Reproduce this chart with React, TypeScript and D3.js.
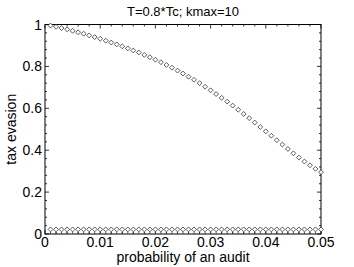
import React, { useEffect, useRef } from "react";
import * as d3 from "d3";

// probability of an audit (0.001 .. 0.05)
const auditProb: number[] = [
  0.001, 0.002, 0.003, 0.004, 0.005, 0.006, 0.007, 0.008, 0.009, 0.010,
  0.011, 0.012, 0.013, 0.014, 0.015, 0.016, 0.017, 0.018, 0.019, 0.020,
  0.021, 0.022, 0.023, 0.024, 0.025, 0.026, 0.027, 0.028, 0.029, 0.030,
  0.031, 0.032, 0.033, 0.034, 0.035, 0.036, 0.037, 0.038, 0.039, 0.040,
  0.041, 0.042, 0.043, 0.044, 0.045, 0.046, 0.047, 0.048, 0.049, 0.050,
];

// tax evasion, upper series
const evasionHigh: number[] = [
  0.995, 0.989, 0.983, 0.977, 0.970, 0.963, 0.956, 0.948, 0.940, 0.932,
  0.923, 0.914, 0.905, 0.896, 0.886, 0.876, 0.866, 0.855, 0.844, 0.832,
  0.820, 0.807, 0.794, 0.780, 0.766, 0.751, 0.736, 0.720, 0.703, 0.686,
  0.668, 0.650, 0.632, 0.613, 0.593, 0.573, 0.553, 0.532, 0.511, 0.490,
  0.469, 0.448, 0.427, 0.406, 0.385, 0.365, 0.346, 0.328, 0.311, 0.295,
];

// tax evasion, lower series (near zero)
const evasionLow: number[] = [
  0.022, 0.022, 0.022, 0.022, 0.022, 0.022, 0.022, 0.022, 0.022, 0.022,
  0.022, 0.022, 0.022, 0.022, 0.022, 0.022, 0.022, 0.022, 0.022, 0.022,
  0.022, 0.022, 0.022, 0.022, 0.022, 0.022, 0.022, 0.022, 0.022, 0.022,
  0.022, 0.022, 0.022, 0.022, 0.022, 0.022, 0.022, 0.022, 0.022, 0.022,
  0.022, 0.022, 0.022, 0.022, 0.022, 0.022, 0.022, 0.022, 0.022, 0.022,
];

const xTicks = [0, 0.01, 0.02, 0.03, 0.04, 0.05];
const yTicks = [0, 0.2, 0.4, 0.6, 0.8, 1];

const W = 354;
const H = 267;
const margin = { left: 45, right: 33, top: 24.5, bottom: 33 };

const App: React.FC = () => {
  const svgRef = useRef<SVGSVGElement | null>(null);

  useEffect(() => {
    if (!svgRef.current) return;
    const svg = d3.select(svgRef.current);
    svg.selectAll("*").remove();

    const x = d3.scaleLinear().domain([0, 0.05]).range([margin.left, W - margin.right]);
    const y = d3.scaleLinear().domain([0, 1]).range([H - margin.bottom, margin.top]);
    const [x0, x1] = x.range();
    const [y0, y1] = y.range();
    const font = "Liberation Sans, Arial, Helvetica, sans-serif";

    const g = svg.append("g");

    // minor + major ticks (inward, on all four sides)
    const xMinor = d3.range(0, 0.0501, 0.002);
    const yMinor = d3.range(0, 1.001, 0.04);
    const tickG = g.append("g").attr("stroke", "#000").attr("stroke-width", 0.8);
    xMinor.forEach((v) => {
      const major = xTicks.some((t) => Math.abs(t - v) < 1e-6);
      const len = major ? 4 : 2;
      tickG.append("line").attr("x1", x(v)).attr("x2", x(v)).attr("y1", y0).attr("y2", y0 - len);
      tickG.append("line").attr("x1", x(v)).attr("x2", x(v)).attr("y1", y1).attr("y2", y1 + len);
    });
    yMinor.forEach((v) => {
      const major = yTicks.some((t) => Math.abs(t - v) < 1e-6);
      const len = major ? 4 : 2;
      tickG.append("line").attr("x1", x0).attr("x2", x0 + len).attr("y1", y(v)).attr("y2", y(v));
      tickG.append("line").attr("x1", x1).attr("x2", x1 - len).attr("y1", y(v)).attr("y2", y(v));
    });

    // box
    g.append("rect")
      .attr("x", x0)
      .attr("y", y1)
      .attr("width", x1 - x0)
      .attr("height", y0 - y1)
      .attr("fill", "none")
      .attr("stroke", "#000")
      .attr("stroke-width", 1);

    // tick labels
    g.selectAll(".xt")
      .data(xTicks)
      .enter()
      .append("text")
      .attr("x", (d) => x(d))
      .attr("y", y0 + 13)
      .attr("text-anchor", "middle")
      .style("font-family", font)
      .style("font-size", "14px")
      .text((d) => (d === 0 ? "0" : d3.format(".2f")(d)));

    g.selectAll(".yt")
      .data(yTicks)
      .enter()
      .append("text")
      .attr("x", x0 - 3)
      .attr("y", (d) => y(d) + 5)
      .attr("text-anchor", "end")
      .style("font-family", font)
      .style("font-size", "14px")
      .text((d) => (d === 0 || d === 1 ? String(d) : d3.format(".1f")(d)));

    // diamond symbol
    const diamond = d3.symbol().type(d3.symbolDiamond2).size(15);

    // lower series: stems + diamonds
    const low = g.append("g");
    low.selectAll("line")
      .data(evasionLow)
      .enter()
      .append("line")
      .attr("x1", (_, i) => x(auditProb[i]))
      .attr("x2", (_, i) => x(auditProb[i]))
      .attr("y1", (d) => y(d) + 2.5)
      .attr("y2", y0)
      .attr("stroke", "#333")
      .attr("stroke-width", 0.8);
    low.selectAll("path")
      .data(evasionLow)
      .enter()
      .append("path")
      .attr("d", diamond)
      .attr("transform", (d, i) => `translate(${x(auditProb[i])},${y(d)})`)
      .attr("fill", "#fff")
      .attr("stroke", "#333")
      .attr("stroke-width", 0.8);

    // upper series
    g.append("g")
      .selectAll("path")
      .data(evasionHigh)
      .enter()
      .append("path")
      .attr("d", diamond)
      .attr("transform", (d, i) => `translate(${x(auditProb[i])},${y(d)})`)
      .attr("fill", "#fff")
      .attr("stroke", "#333")
      .attr("stroke-width", 0.8);

    // title and axis labels
    svg.append("text")
      .attr("x", (x0 + x1) / 2)
      .attr("y", 16)
      .attr("text-anchor", "middle")
      .style("font-family", font)
      .style("font-size", "13px")
      .text("T=0.8*Tc; kmax=10");

    svg.append("text")
      .attr("x", (x0 + x1) / 2)
      .attr("y", 262)
      .attr("text-anchor", "middle")
      .style("font-family", font)
      .style("font-size", "14px")
      .text("probability of an audit");

    svg.append("text")
      .attr("transform", `translate(16,${(y0 + y1) / 2}) rotate(-90)`)
      .attr("text-anchor", "middle")
      .style("font-family", font)
      .style("font-size", "14px")
      .text("tax evasion");
  }, []);

  return (
    <svg
      ref={svgRef}
      width={W}
      height={H}
      style={{ position: "absolute", left: 0, top: 0, background: "#fff" }}
    />
  );
};

export default App;
